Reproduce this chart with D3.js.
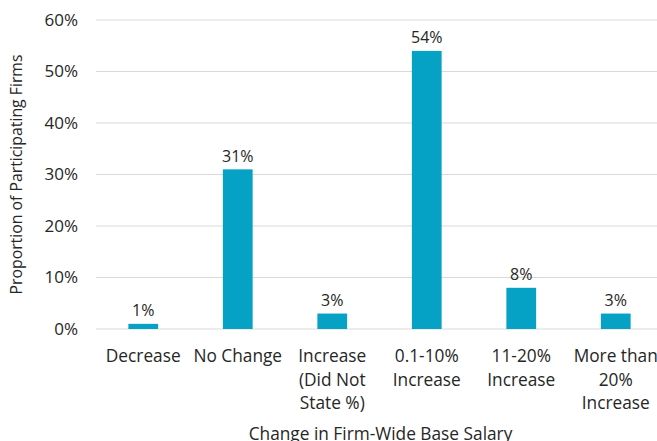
<!DOCTYPE html>
<html>
<head>
<meta charset="utf-8">
<script src="https://cdn.jsdelivr.net/npm/d3@7"></script>
<style>
  body { margin: 0; background: #fff; }
  text { font-family: "Open Sans", sans-serif; fill: #262626; }
</style>
</head>
<body>
<div id="chart"></div>
<script>
const categories = [
    ["Decrease"],
    ["No Change"],
    ["Increase", "(Did Not", "State %)"],
    ["0.1-10%", "Increase"],
    ["11-20%", "Increase"],
    ["More than", "20%", "Increase"]
];
const values = [1, 31, 3, 54, 8, 3];
const yTicks = [0, 10, 20, 30, 40, 50, 60];

const width = 657, height = 441;
// plot area runs a little past the right edge, as in the source image
const margin = { top: 20, right: -6, bottom: 112, left: 96 };

const svg = d3.select("#chart").append("svg")
    .attr("width", width)
    .attr("height", height);

const x = d3.scaleBand()
    .domain(d3.range(categories.length))
    .range([margin.left, width - margin.right])
    .paddingInner(0.685)
    .paddingOuter(0.3425);

const y = d3.scaleLinear()
    .domain([0, 60])
    .range([height - margin.bottom, margin.top]);

// gridlines
svg.append("g")
    .selectAll("line")
    .data(yTicks)
    .join("line")
    .attr("x1", margin.left)
    .attr("x2", width)
    .attr("y1", d => y(d))
    .attr("y2", d => y(d))
    .attr("stroke", "#d9d9d9")
    .attr("stroke-width", 1);

// y axis labels
svg.append("g")
    .selectAll("text")
    .data(yTicks)
    .join("text")
    .attr("x", margin.left - 18)
    .attr("y", d => y(d))
    .attr("dy", "0.35em")
    .attr("text-anchor", "end")
    .attr("font-size", 17)
    .text(d => d + "%");

// bars
svg.append("g")
    .selectAll("rect")
    .data(values)
    .join("rect")
    .attr("x", (d, i) => x(i))
    .attr("width", x.bandwidth())
    .attr("y", d => y(d))
    .attr("height", d => y(0) - y(d))
    .attr("fill", "#05a2c6");

// value labels
svg.append("g")
    .selectAll("text")
    .data(values)
    .join("text")
    .attr("x", (d, i) => x(i) + x.bandwidth() / 2)
    .attr("y", d => y(d) - 7.5)
    .attr("text-anchor", "middle")
    .attr("font-size", 16)
    .text(d => d + "%");

// category labels
const cat = svg.append("g")
    .selectAll("text")
    .data(categories)
    .join("text")
    .attr("x", (d, i) => x(i) + x.bandwidth() / 2)
    .attr("y", y(0) + 33)
    .attr("text-anchor", "middle")
    .attr("font-size", 17.3);
cat.selectAll("tspan")
    .data(d => d)
    .join("tspan")
    .attr("x", function () { return d3.select(this.parentNode).attr("x"); })
    .attr("dy", (d, i) => i === 0 ? 0 : 23.7)
    .text(d => d);

// axis titles
svg.append("text")
    .attr("x", (margin.left + width) / 2 + 4)
    .attr("y", 440)
    .attr("text-anchor", "middle")
    .attr("font-size", 17.3)
    .text("Change in Firm-Wide Base Salary");

svg.append("text")
    .attr("transform", `translate(22, ${(y(0) + y(60)) / 2}) rotate(-90)`)
    .attr("text-anchor", "middle")
    .attr("font-size", 15.8)
    .text("Proportion of Participating Firms");
</script>
</body>
</html>
